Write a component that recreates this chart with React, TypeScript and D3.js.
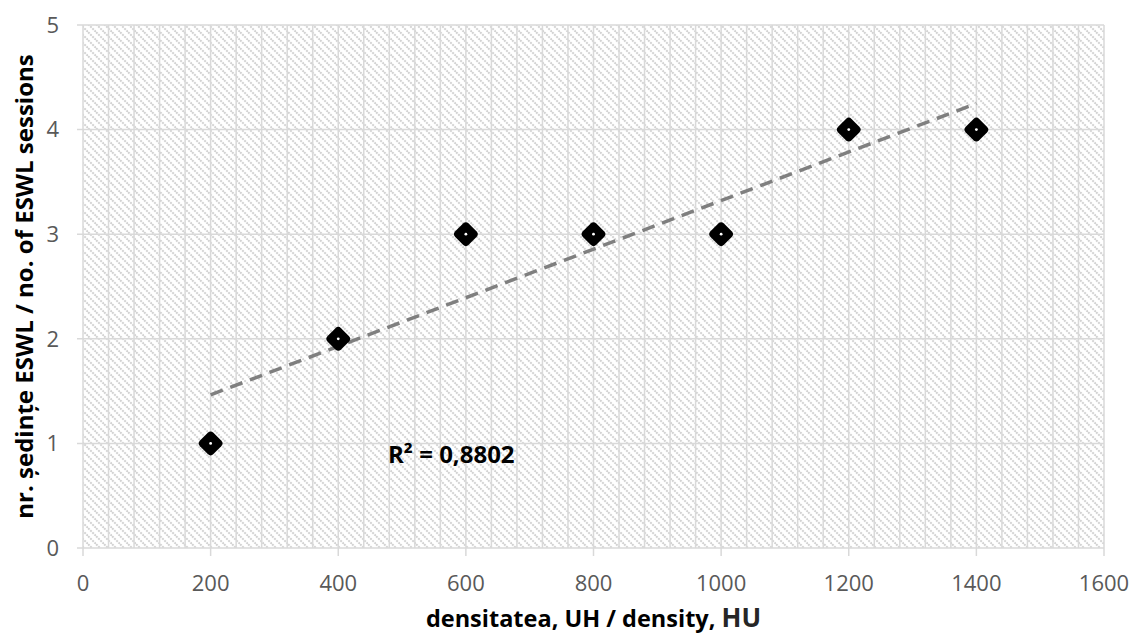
import React from "react";
import * as d3 from "d3";

// density (HU) vs number of ESWL sessions
const densityHU = [200, 400, 600, 800, 1000, 1200, 1400];
const sessions = [1, 2, 3, 3, 3, 4, 4];
const xTicks = [0, 200, 400, 600, 800, 1000, 1200, 1400, 1600];
const yTicks = [0, 1, 2, 3, 4, 5];
const r2Label = "R² = 0,8802";

const W = 1131;
const H = 638;
const margin = { top: 25, right: 27, bottom: 90, left: 83 };
const FONT = "'Open Sans', 'Noto Sans', sans-serif";

const App = () => {
  const x = d3.scaleLinear().domain([0, 1600]).range([margin.left, W - margin.right]);
  const y = d3.scaleLinear().domain([0, 5]).range([H - margin.bottom, margin.top]);

  // least squares trend line
  const mx = d3.mean(densityHU) as number;
  const my = d3.mean(sessions) as number;
  const sxy = d3.sum(densityHU, (d, i) => (d - mx) * (sessions[i] - my));
  const sxx = d3.sum(densityHU, (d) => (d - mx) ** 2);
  const slope = sxy / sxx;
  const icpt = my - slope * mx;
  const x0 = d3.min(densityHU) as number;
  const x1 = d3.max(densityHU) as number;
  const trend = d3.line<number>()
    .x((d) => x(d))
    .y((d) => y(icpt + slope * d))([x0, x1]);

  const minorX = d3.range(0, 1601, 40);
  const [px0, px1] = x.range();
  const [py0, py1] = y.range();

  return (
    <svg width={W} height={H} style={{ display: "block", position: "absolute", left: 0, top: 0 }}>
      <defs>
        <pattern id="hatch" width={8} height={8} patternUnits="userSpaceOnUse">
          <rect width={8} height={8} fill="#fff" />
          <path d="M-2,-2 L10,10 M-2,6 L2,10 M6,-2 L10,2" stroke="#d2d2d2" strokeWidth={2} strokeDasharray="2 1" />
        </pattern>
      </defs>
      <rect x={0} y={0} width={W} height={H} fill="#fff" />
      <rect x={px0} y={py1} width={px1 - px0} height={py0 - py1} fill="url(#hatch)" />

      {minorX.map((v) => (
        <line key={"vx" + v} x1={x(v)} x2={x(v)} y1={py1} y2={py0} stroke="#d9d9d9" strokeWidth={1.5} />
      ))}
      {yTicks.map((v) => (
        <line key={"hy" + v} x1={px0 - 6} x2={px1} y1={y(v)} y2={y(v)} stroke="#d9d9d9" strokeWidth={1.5} />
      ))}
      {xTicks.map((v) => (
        <line key={"tx" + v} x1={x(v)} x2={x(v)} y1={py0} y2={py0 + 8} stroke="#d9d9d9" strokeWidth={1.5} />
      ))}

      {yTicks.map((v) => (
        <text key={"ly" + v} x={px0 - 24} y={y(v)} dy="0.35em" textAnchor="end" fontFamily={FONT} fontSize={22} fill="#595959">
          {v}
        </text>
      ))}
      {xTicks.map((v) => (
        <text key={"lx" + v} x={x(v)} y={py0 + 43} textAnchor="middle" fontFamily={FONT} fontSize={22} fill="#595959">
          {v}
        </text>
      ))}

      <path d={trend ?? ""} fill="none" stroke="#7f7f7f" strokeWidth={3.5} strokeDasharray="13 8" />

      {densityHU.map((d, i) => (
        <g key={"m" + i} transform={`translate(${x(d)},${y(sessions[i])})`}>
          <rect x={-9.5} y={-9.5} width={19} height={19} rx={4} fill="#000" transform="rotate(45)" />
          <circle r={1.4} fill="#fff" />
        </g>
      ))}

      <text x={388} y={463} fontFamily={FONT} fontSize={24} fontWeight="bold" fill="#000">
        {r2Label}
      </text>

      <text x={(px0 + px1) / 2} y={627} textAnchor="middle" fontFamily={FONT} fontSize={23.5} fontWeight="bold" fill="#000">
        densitatea, UH / density, <tspan fontSize={26} fill="#262626">HU</tspan>
      </text>
      <text
        transform={`translate(33,${(py0 + py1) / 2}) rotate(-90)`}
        textAnchor="middle"
        fontFamily={FONT}
        fontSize={24}
        fontWeight="bold"
        fill="#000"
      >
        nr. ședințe ESWL / no. of ESWL sessions
      </text>
    </svg>
  );
};

export default App;
